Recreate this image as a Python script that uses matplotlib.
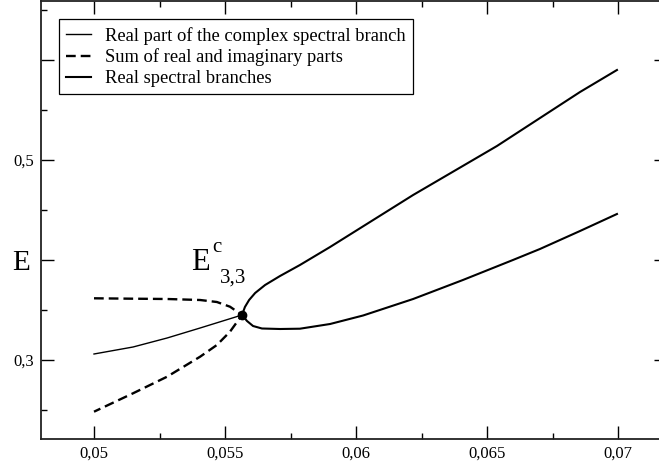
import matplotlib
matplotlib.use("Agg")
import matplotlib.pyplot as plt
from matplotlib.ticker import FixedLocator, FixedFormatter, MultipleLocator

plt.rcParams['font.family'] = ['Liberation Serif', 'DejaVu Serif']
plt.rcParams['lines.scale_dashes'] = False

# Real part of the complex spectral branch (thin solid)
complex_x = [0.05, 0.05149, 0.05279, 0.05405, 0.05565]
complex_y = [0.306, 0.313, 0.322, 0.332, 0.345]

# Sum of real and imaginary parts (dashed): upper then lower branch
sum_upper_x = [0.05, 0.05149, 0.05279, 0.05405, 0.05469, 0.05519, 0.05565]
sum_upper_y = [0.3617, 0.3613, 0.361, 0.360, 0.358, 0.3533, 0.345]
sum_lower_x = [0.05565, 0.05519, 0.05469, 0.05405, 0.05279, 0.05149, 0.05]
sum_lower_y = [0.345, 0.3283, 0.315, 0.3033, 0.2833, 0.2667, 0.2483]

# Real spectral branches (thick solid): upper branch then lower branch
real_upper_x = [0.06996, 0.06855, 0.06538, 0.06218, 0.05901, 0.05786, 0.05710,
                0.05653, 0.05615, 0.05592, 0.05576, 0.05565]
real_upper_y = [0.590, 0.568, 0.514, 0.465, 0.413, 0.395, 0.384,
                0.375, 0.367, 0.360, 0.353, 0.345]
real_lower_x = [0.05565, 0.05584, 0.05607, 0.05641, 0.05710, 0.05786, 0.05901,
                0.06027, 0.06218, 0.06408, 0.06599, 0.06702, 0.06855, 0.06996]
real_lower_y = [0.345, 0.339, 0.334, 0.3315, 0.331, 0.3313, 0.336,
                0.3445, 0.361, 0.380, 0.400, 0.411, 0.429, 0.446]

crit_x = [0.05565]
crit_y = [0.345]

x_major = [0.05, 0.055, 0.06, 0.065, 0.07]
x_labels = ['0,05', '0,055', '0,06', '0,065', '0,07']
y_major = [0.3, 0.4, 0.5, 0.6]
y_labels = ['0,3', '', '0,5', '']

legend_labels = ['Real part of the complex spectral branch',
                 'Sum of real and imaginary parts',
                 'Real spectral branches']

W, H = 659, 466
fig = plt.figure(figsize=(W / 100, H / 100), dpi=100)
ax_left, ax_right, ax_top, ax_bottom = 41, 667, 0.5, 439
ax = fig.add_axes([ax_left / W, (H - ax_bottom) / H,
                   (ax_right - ax_left) / W, (ax_bottom - ax_top) / H])

ax.plot(complex_x, complex_y, color='black', lw=1.0, label=legend_labels[0])
ax.plot(sum_upper_x + sum_lower_x[1:], sum_upper_y + sum_lower_y[1:],
        color='black', lw=1.7, dashes=(7.0, 3.6), label=legend_labels[1])
ax.plot(real_upper_x + real_lower_x[1:], real_upper_y + real_lower_y[1:],
        color='black', lw=1.5, label=legend_labels[2])
ax.plot(crit_x, crit_y, 'o', color='black', ms=6)

ax.set_xlim(0.047977, 0.07187)
ax.set_ylim(0.221, 0.6595)

ax.xaxis.set_major_locator(FixedLocator(x_major))
ax.xaxis.set_major_formatter(FixedFormatter(x_labels))
ax.xaxis.set_minor_locator(MultipleLocator(0.0025))
ax.yaxis.set_major_locator(FixedLocator(y_major))
ax.yaxis.set_major_formatter(FixedFormatter(y_labels))
ax.yaxis.set_minor_locator(MultipleLocator(0.05))

ax.tick_params(which='both', direction='in', top=True, right=True,
               color='black', width=1.0, labelsize=12, pad=5)
ax.tick_params(which='major', length=9.4)
ax.tick_params(which='minor', length=4.3)
for s in ax.spines.values():
    s.set_linewidth(1.3)
    s.set_color('#222222')

fig.text(12 / W, 1 - 270 / H, 'E', fontsize=21, ha='left', va='baseline')

ax.text(0.05372, 0.390, 'E', fontsize=22, ha='left', va='baseline')
ax.text(0.05452, 0.408, 'c', fontsize=15, ha='left', va='baseline')
ax.text(0.05480, 0.377, '3,3', fontsize=15, ha='left', va='baseline')

leg = ax.legend(loc='upper left', bbox_to_anchor=(0.0288, 0.9567),
                fontsize=13.3, frameon=True, fancybox=False, framealpha=1,
                edgecolor='black', borderpad=0.4, labelspacing=0.2,
                handlelength=1.35, handletextpad=0.75, borderaxespad=0)
leg.get_frame().set_linewidth(0.9)

fig.savefig('out.png', dpi=100)
